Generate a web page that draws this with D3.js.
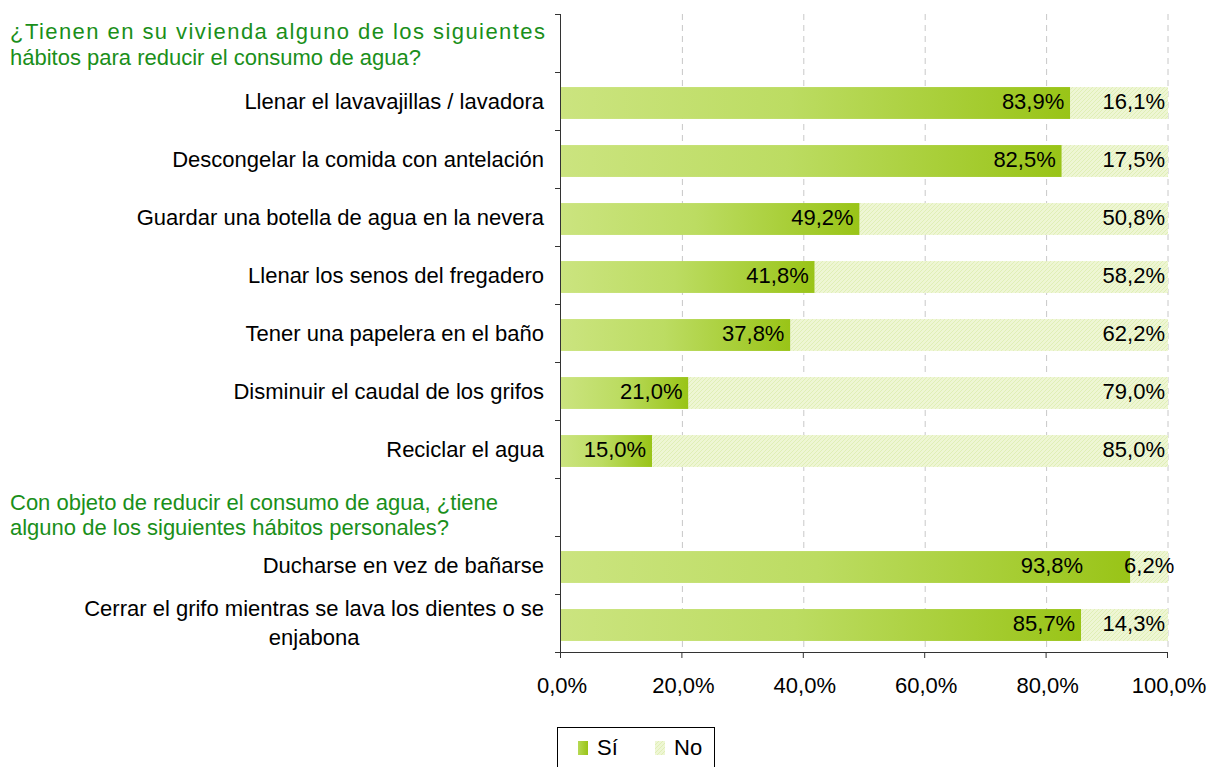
<!DOCTYPE html>
<html>
<head>
    <meta charset="utf-8">
    <script src="https://d3js.org/d3.v7.min.js"></script>
    <style>
        body { margin: 0; background: #ffffff; }
        text { font-family: "Liberation Sans", Arial, sans-serif; }
    </style>
</head>
<body>
    <svg id="canvas" width="1212" height="767"></svg>
    <script>
        const svg = d3.select('#canvas');
        const FONT_SIZE = 22;
        const LEFT = 561;
        const RIGHT = 1168;
        const TOP = 14;
        const BOTTOM = 652;

        //rows, top to bottom. headings are empty rows with green text in them
        const rows = ['h1', 'r1', 'r2', 'r3', 'r4', 'r5', 'r6', 'r7', 'h2', 'r8', 'r9'];
        const headings = {
            h1: ['¿Tienen en su vivienda alguno de los siguientes', 'hábitos para reducir el consumo de agua?'],
            h2: ['Con objeto de reducir el consumo de agua, ¿tiene', 'alguno de los siguientes hábitos personales?']
        };
        const categories = [
            'Llenar el lavavajillas / lavadora',
            'Descongelar la comida con antelación',
            'Guardar una botella de agua en la nevera',
            'Llenar los senos del fregadero',
            'Tener una papelera en el baño',
            'Disminuir el caudal de los grifos',
            'Reciclar el agua',
            'Ducharse en vez de bañarse',
            'Cerrar el grifo mientras se lava los dientes o se enjabona'
        ];
        const categoryRows = ['r1', 'r2', 'r3', 'r4', 'r5', 'r6', 'r7', 'r8', 'r9'];
        const si = [83.9, 82.5, 49.2, 41.8, 37.8, 21.0, 15.0, 93.8, 85.7];
        const no = [16.1, 17.5, 50.8, 58.2, 62.2, 79.0, 85.0, 6.2, 14.3];
        const xTicks = [0, 20, 40, 60, 80, 100];
        const seriesNames = ['Sí', 'No'];

        const fmt = v => v.toFixed(1).replace('.', ',') + '%';

        const x = d3.scaleLinear().domain([0, 100]).range([LEFT, RIGHT]);
        //bars sit 2px below the middle of their row, like the original
        const y = d3.scaleBand().domain(rows).range([TOP + 2, BOTTOM + 2])
            .paddingInner(0.45).paddingOuter(0.225);
        const step = y.step();

        //fills: per bar gradient for Sí, hatch for No
        const defs = svg.append('defs');
        const grad = defs.append('linearGradient').attr('id', 'siGrad')
            .attr('x1', 0).attr('y1', 0).attr('x2', 1).attr('y2', 0);
        grad.append('stop').attr('offset', 0).attr('stop-color', '#cbe47f');
        grad.append('stop').attr('offset', 0.45).attr('stop-color', '#bcdc62');
        grad.append('stop').attr('offset', 1).attr('stop-color', '#99c417');

        const pat = defs.append('pattern').attr('id', 'noHatch')
            .attr('width', 4).attr('height', 4).attr('patternUnits', 'userSpaceOnUse');
        pat.append('rect').attr('width', 4).attr('height', 4).attr('fill', '#eef6d4');
        pat.append('path').attr('d', 'M-1,1 l2,-2 M0,4 l4,-4 M3,5 l2,-2')
            .attr('stroke', '#e0efb6').attr('stroke-width', 1);

        const lgrad = defs.append('linearGradient').attr('id', 'siLegend')
            .attr('x1', 0).attr('y1', 0).attr('x2', 1).attr('y2', 0);
        lgrad.append('stop').attr('offset', 0).attr('stop-color', '#b6d954');
        lgrad.append('stop').attr('offset', 1).attr('stop-color', '#99c417');

        //dashed gridlines
        svg.append('g').selectAll('line')
            .data(xTicks.slice(1))
            .join('line')
            .attr('x1', d => x(d)).attr('x2', d => x(d))
            .attr('y1', TOP).attr('y2', BOTTOM)
            .attr('stroke', '#c8c8c8')
            .attr('stroke-width', 1)
            .attr('stroke-dasharray', '6,5');

        const data = categories.map((c, i) => ({ cat: c, row: categoryRows[i], si: si[i], no: no[i] }));

        //bars
        svg.append('g').selectAll('rect')
            .data(data)
            .join('rect')
            .attr('x', x(0))
            .attr('y', d => y(d.row))
            .attr('width', d => x(d.si) - x(0))
            .attr('height', y.bandwidth())
            .attr('fill', 'url(#siGrad)');

        svg.append('g').selectAll('rect')
            .data(data)
            .join('rect')
            .attr('x', d => x(d.si))
            .attr('y', d => y(d.row))
            .attr('width', d => x(d.si + d.no) - x(d.si))
            .attr('height', y.bandwidth())
            .attr('fill', 'url(#noHatch)');

        //value labels. No label first: centered on its segment when it does not fit
        const labels = svg.append('g').attr('font-size', FONT_SIZE).attr('fill', '#000');
        labels.selectAll('text.no')
            .data(data)
            .join('text')
            .attr('class', 'no')
            .attr('x', d => x(d.si + d.no) - 3)
            .attr('y', d => y(d.row) + y.bandwidth() / 2 + 6)
            .attr('text-anchor', 'end')
            .text(d => fmt(d.no))
            .each(function (d) {
                const w = this.getComputedTextLength();
                const segW = x(d.si + d.no) - x(d.si);
                d.siEnd = x(d.si) - 6;
                if (w + 6 > segW) {
                    //label overflows: center it and move the Sí label out of its way
                    const cx = (x(d.si) + x(d.si + d.no)) / 2;
                    d3.select(this).attr('text-anchor', 'middle').attr('x', cx);
                    d.siEnd = cx - w / 2 - 41;
                }
            });
        labels.selectAll('text.si')
            .data(data)
            .join('text')
            .attr('class', 'si')
            .attr('x', d => d.siEnd)
            .attr('y', d => y(d.row) + y.bandwidth() / 2 + 6)
            .attr('text-anchor', 'end')
            .text(d => fmt(d.si));

        //category labels, right aligned; long one wraps in two centered lines
        const catG = svg.append('g').attr('font-size', FONT_SIZE).attr('fill', '#000');
        data.forEach(d => {
            const cy = y(d.row) + y.bandwidth() / 2;
            if (d.cat.length > 45) {
                const words = d.cat.split(' ');
                const l1 = words.slice(0, -1).join(' ');
                const l2 = words[words.length - 1];
                const t1 = catG.append('text').attr('x', 544).attr('y', cy - 9)
                    .attr('text-anchor', 'end').text(l1);
                const w1 = t1.node().getComputedTextLength();
                catG.append('text').attr('x', 544 - w1 / 2).attr('y', cy + 20)
                    .attr('text-anchor', 'middle').text(l2);
            } else {
                catG.append('text').attr('x', 544).attr('y', cy + 6)
                    .attr('text-anchor', 'end').text(d.cat);
            }
        });

        //green headings, first line justified
        const headG = svg.append('g').attr('font-size', FONT_SIZE).attr('fill', '#1a8f1a');
        const headOffsets = { h1: [-6, 20], h2: [1, 26] };
        Object.keys(headings).forEach(k => {
            const cy = y(k) + y.bandwidth() / 2;
            const lines = headings[k];
            const t = headG.append('text').attr('x', 10).attr('y', cy + headOffsets[k][0]).text(lines[0]);
            if (k === 'h1') t.attr('textLength', 535).attr('lengthAdjust', 'spacing');
            headG.append('text').attr('x', 10).attr('y', cy + headOffsets[k][1]).text(lines[1]);
        });

        //left axis with ticks between rows
        const axisG = svg.append('g').attr('stroke', '#333').attr('stroke-width', 1);
        axisG.append('line')
            .attr('x1', LEFT - 0.5).attr('x2', LEFT - 0.5)
            .attr('y1', TOP).attr('y2', BOTTOM + 1);
        axisG.selectAll('line.ytick')
            .data(d3.range(rows.length + 1))
            .join('line')
            .attr('class', 'ytick')
            .attr('x1', LEFT - 6).attr('x2', LEFT)
            .attr('y1', i => Math.round(TOP + i * step) + 0.5)
            .attr('y2', i => Math.round(TOP + i * step) + 0.5);

        //bottom axis
        axisG.append('line')
            .attr('x1', LEFT - 6).attr('x2', RIGHT)
            .attr('y1', BOTTOM + 0.5).attr('y2', BOTTOM + 0.5);
        axisG.selectAll('line.xtick')
            .data(xTicks)
            .join('line')
            .attr('class', 'xtick')
            .attr('x1', d => x(d) - 0.5).attr('x2', d => x(d) - 0.5)
            .attr('y1', BOTTOM).attr('y2', BOTTOM + 6);

        svg.append('g').attr('font-size', FONT_SIZE).attr('fill', '#000')
            .selectAll('text')
            .data(xTicks)
            .join('text')
            .attr('x', d => x(d) + 1)
            .attr('y', 693)
            .attr('text-anchor', 'middle')
            .text(d => fmt(d));

        //legend
        const legend = svg.append('g');
        legend.append('rect')
            .attr('x', 557.5).attr('y', 727.5)
            .attr('width', 157).attr('height', 50)
            .attr('fill', '#fff').attr('stroke', '#000');
        const legendFills = ['url(#siLegend)', 'url(#noHatch)'];
        const legendX = [578, 655];
        seriesNames.forEach((s, i) => {
            legend.append('rect')
                .attr('x', legendX[i]).attr('y', 741)
                .attr('width', 10).attr('height', 14)
                .attr('fill', legendFills[i]);
            legend.append('text')
                .attr('x', legendX[i] + 19).attr('y', 755)
                .attr('font-size', FONT_SIZE)
                .text(s);
        });
    </script>
</body>
</html>
